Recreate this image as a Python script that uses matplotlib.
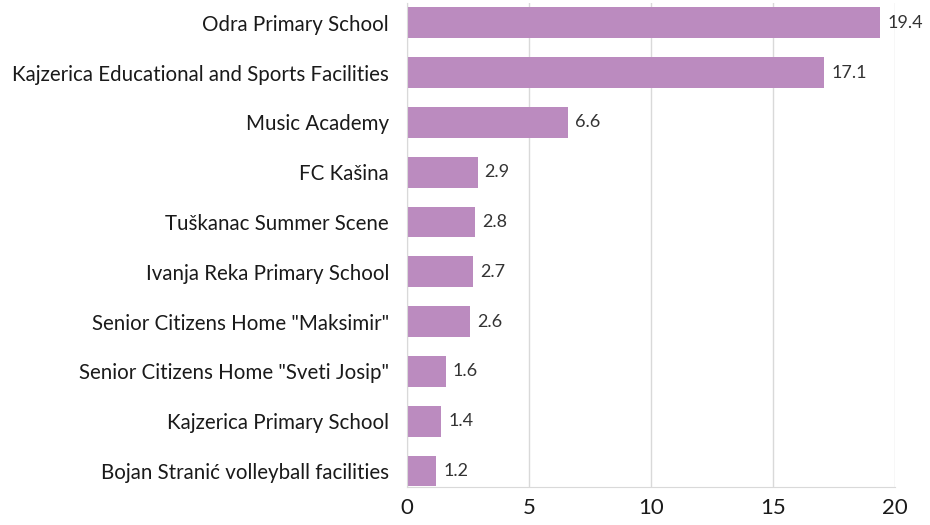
import matplotlib
matplotlib.use("Agg")
import matplotlib.pyplot as plt

names = [
    "Odra Primary School",
    "Kajzerica Educational and Sports Facilities",
    "Music Academy",
    "FC Kašina",
    "Tuškanac Summer Scene",
    "Ivanja Reka Primary School",
    'Senior Citizens Home "Maksimir"',
    'Senior Citizens Home "Sveti Josip"',
    "Kajzerica Primary School",
    "Bojan Stranić volleyball facilities",
]
values = [19.4, 17.1, 6.6, 2.9, 2.8, 2.7, 2.6, 1.6, 1.4, 1.2]
xticks = [0, 5, 10, 15, 20]

plt.rcParams['font.family'] = ['Lato', 'DejaVu Sans']

fig = plt.figure(figsize=(9.3, 5.25), dpi=100)
ax = fig.add_axes([0.4376, 0.0724, 0.5247, 0.922])

pos = list(range(len(names)))
bars = ax.barh(pos, values, height=0.62, color='#bb8bbf', zorder=2)
ax.bar_label(bars, labels=[f"{v:.1f}" for v in values], padding=5,
             fontsize=13, color='#333333')

ax.set_ylim(9.32, -0.4)
ax.set_xlim(0, 20)
ax.set_xticks(xticks)
ax.set_yticks(pos)
ax.set_yticklabels(names, fontsize=14.8, color='#1a1a1a')
ax.tick_params(axis='x', labelsize=16, colors='#1a1a1a', length=0, pad=8)
ax.tick_params(axis='y', length=0, pad=13)
ax.grid(axis='x', color='#d9d9d9', linewidth=1, zorder=0)
for s in ['top', 'right']:
    ax.spines[s].set_visible(False)
for s in ['left', 'bottom']:
    ax.spines[s].set_color('#d9d9d9')

fig.savefig("out.png", dpi=100)
